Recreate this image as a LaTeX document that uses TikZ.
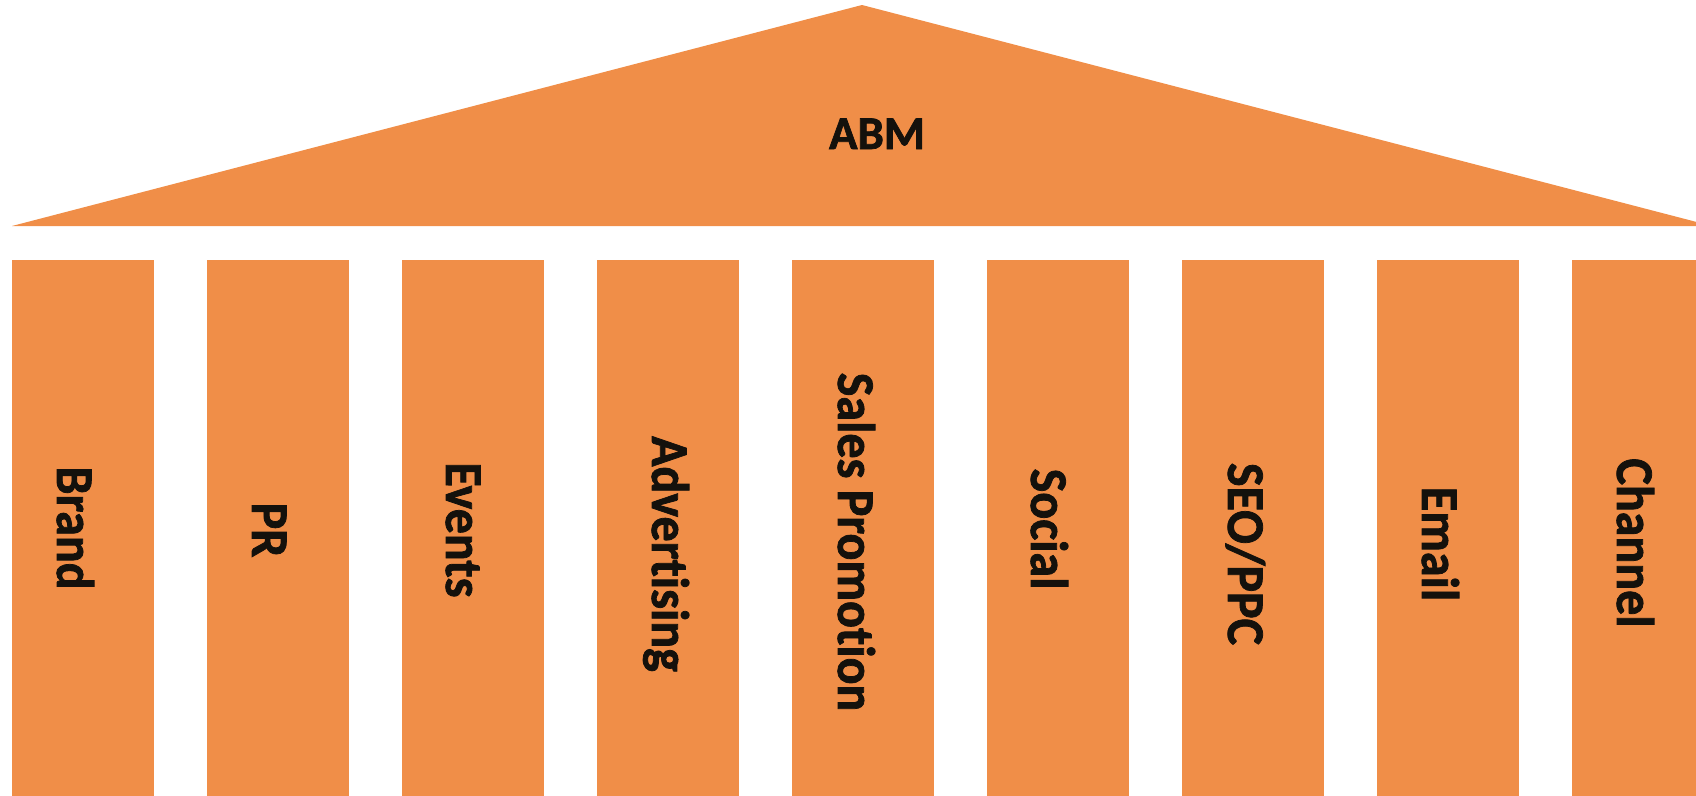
\documentclass[tikz,border=0pt]{standalone}
\usepackage{fontspec}
\setmainfont{Carlito}[BoldFont={Carlito Bold}, Ligatures=NoCommon, BoldFeatures={FakeBold=1.5}]
\definecolor{roof}{RGB}{240,142,72}
\definecolor{ink}{RGB}{20,17,12}
\newcommand{\pstretch}[1]{\scalebox{1}[1.06]{#1}}
\tikzset{
  pillar/.style={fill=roof, draw=none},
  pillarlabel/.style={rotate=-90, anchor=base, inner sep=0pt, text=ink, font=\bfseries\fontsize{50}{60}\selectfont},
  rooflabel/.style={anchor=base, inner sep=0pt, text=ink, font=\bfseries\fontsize{47}{56}\selectfont}
}
\begin{document}
\begin{tikzpicture}[x=1pt,y=-1pt]
\useasboundingbox (0,0) rectangle (1696,795);
\clip (0,0) rectangle (1696,795);
\fill[white] (0,0) rectangle (1696,795);
% roof
\coordinate (roofL) at (12,226);
\coordinate (roofT) at (862,5);
\coordinate (roofR) at (1712,226);
\fill[roof] (roofL) -- (roofT) -- (roofR) -- cycle;
\node[rooflabel] (abm) at (877,149) {ABM};
% pillars
\foreach \i in {0,...,8}{
  \path[pillar] ({12+195*\i},260) rectangle ({154+195*\i},800);
  \coordinate (p\i) at ({83+195*\i},260);
}
\node[pillarlabel] (brand) at (57,528) {\pstretch{Brand}};
\node[pillarlabel] (pr) at (252,530) {\pstretch{PR}};
\node[pillarlabel] (events) at (446,530) {\pstretch{Events}};
\node[pillarlabel] (adv) at (652,554) {\pstretch{Advertising}};
\node[pillarlabel] (sales) at (838,542) {\pstretch{Sales Promotion}};
\node[pillarlabel] (social) at (1031,529) {\pstretch{Social}};
\node[pillarlabel] (seo) at (1228,554) {\pstretch{SEO/PPC}};
\node[pillarlabel] (email) at (1422,544) {\pstretch{Email}};
\node[pillarlabel] (channel) at (1617,543) {\pstretch{Channel}};
\end{tikzpicture}
\end{document}
